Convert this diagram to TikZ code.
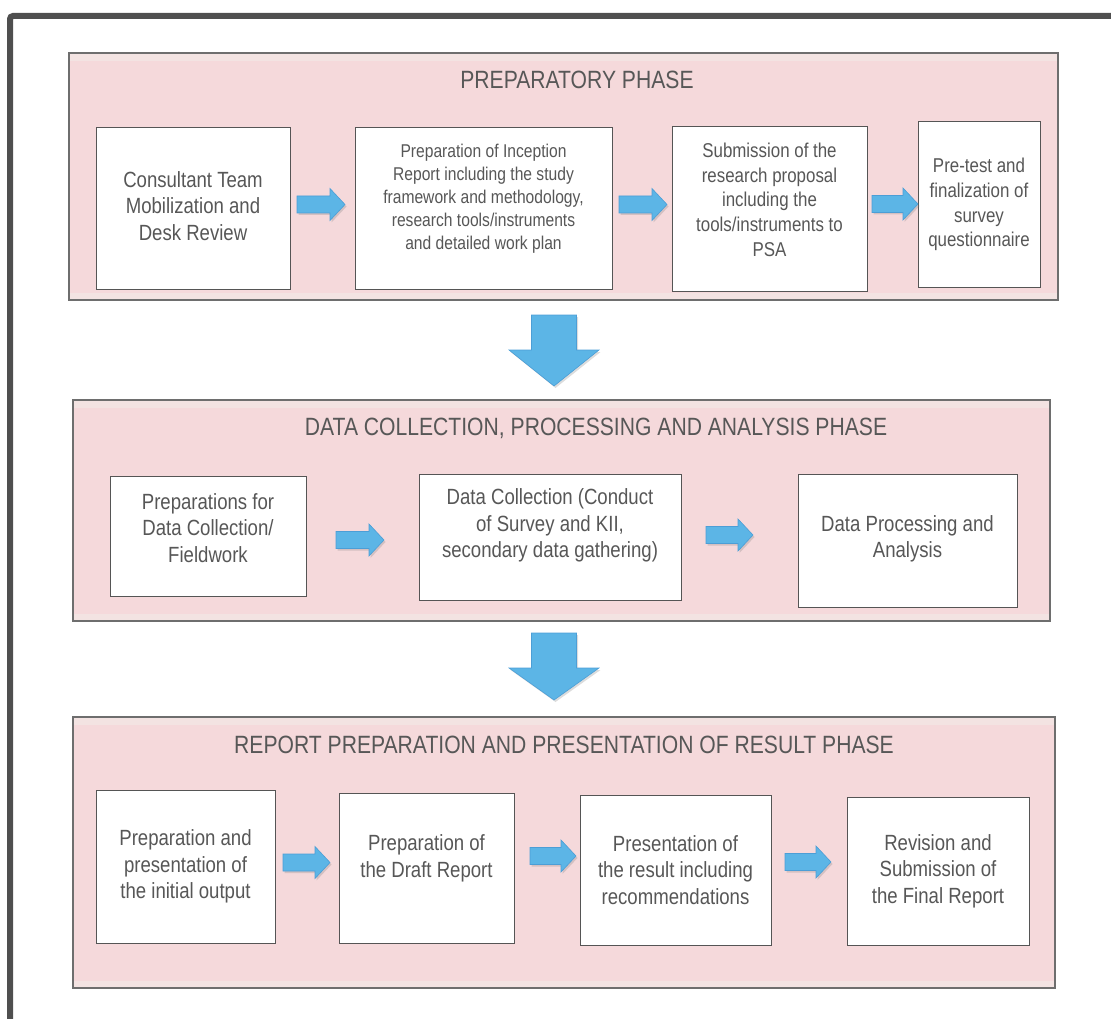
\documentclass[tikz,border=0pt]{standalone}
\usepackage{fontspec}
\setmainfont{Liberation Sans}[FakeStretch=0.845]
\usetikzlibrary{calc,shadows}
\definecolor{framegray}{HTML}{4F4F4F}
\definecolor{panelpink}{HTML}{F5D9DB}
\definecolor{panelband}{HTML}{F3E3E2}
\definecolor{panelline}{HTML}{6E6E6E}
\definecolor{boxline}{HTML}{555555}
\definecolor{textgray}{HTML}{575757}
\definecolor{arrowblue}{HTML}{5CB5E6}
\definecolor{arrowedge}{HTML}{4C9ED6}

\tikzset{
  panel/.style={draw=panelline, fill=panelpink, line width=1.3pt, inner sep=0pt, outer sep=0pt},
  phasetitle/.style={text=textgray, font=\fontsize{25}{30}\selectfont, inner sep=0pt},
  stepbox/.style={draw=boxline, fill=white, line width=1pt, align=center, inner sep=0pt,
                  outer sep=0pt, text=textgray, font=\fontsize{22}{26.5}\selectfont},
  smalltext/.style={font=\fontsize{18.5}{23}\selectfont},
  midtext/.style={font=\fontsize{20}{24.7}\selectfont},
  blockarrow/.style={fill=arrowblue, draw=arrowedge, line width=0.6pt, line join=miter,
                     drop shadow={shadow xshift=1.5pt, shadow yshift=-2pt, opacity=0.28}},
}

% horizontal block arrow from the x of #1 to the x of #2, at the height of #1
\newcommand\flowarrow[2]{%
  \path let \p1=#1, \p2=#2 in
    [blockarrow] (\x1,\y1+8.5) -- (\x2-15,\y1+8.5) -- (\x2-15,\y1+16) -- (\x2,\y1)
      -- (\x2-15,\y1-16) -- (\x2-15,\y1-8.5) -- (\x1,\y1-8.5) -- cycle;}

% vertical block arrow from the y of #1 down to the y of #2, at the x of #1
\newcommand\phasearrow[2]{%
  \path let \p1=#1, \p2=#2 in
    [blockarrow] (\x1-22.5,\y1) -- (\x1+22.5,\y1) -- (\x1+22.5,\y1-35) -- (\x1+45,\y1-35)
      -- (\x1,\y2) -- (\x1-45,\y1-35) -- (\x1-22.5,\y1-35) -- cycle;}

\begin{document}
\begin{tikzpicture}[x=1pt, y=-1pt]
  \useasboundingbox (0,0) rectangle (1111,1019);

  % open outer frame
  \draw[framegray, line width=6pt, rounded corners=3pt] (1111,16) -- (10,16) -- (10,1019);

  % phase panels
  \node[panel, minimum width=989pt, minimum height=247pt] (p1) at (563.5,176.5) {};
  \node[panel, minimum width=977pt, minimum height=221pt] (p2) at (561.5,510.5) {};
  \node[panel, minimum width=982pt, minimum height=271pt] (p3) at (564,852.5) {};
  \foreach \p in {p1,p2,p3}{
    \fill[panelband] ($(\p.north west)+(0.65,0.65)$) rectangle ($(\p.north east)+(-0.65,8)$);
    \fill[panelband] ($(\p.south west)+(0.65,-7)$) rectangle ($(\p.south east)+(-0.65,-0.65)$);
  }

  \node[phasetitle] (t1) at (577,80) {PREPARATORY PHASE};
  \node[phasetitle] (t2) at (596,428) {DATA COLLECTION, PROCESSING AND ANALYSIS PHASE};
  \node[phasetitle] (t3) at (564,745) {REPORT PREPARATION AND PRESENTATION OF RESULT PHASE};

  % preparatory phase steps
  \node[stepbox, minimum width=194pt, minimum height=161pt] (b1) at (193,208.5)
    {Consultant Team\\Mobilization and\\Desk Review\\[-21pt]};
  \node[stepbox, smalltext, minimum width=257pt, minimum height=161pt] (b2) at (483.5,208.5)
    {Preparation of Inception\\Report including the study\\framework and methodology,\\research tools/instruments\\and detailed work plan\\[1pt]};
  \node[stepbox, midtext, minimum width=195pt, minimum height=164pt] (b3) at (769.5,209)
    {Submission of the\\research proposal\\including the\\tools/instruments to\\PSA\\[-5.7pt]};
  \node[stepbox, midtext, minimum width=122pt, minimum height=165pt] (b4) at (979,204.5)
    {Pre-test and\\finalization of\\survey\\questionnaire};

  % data collection steps
  \node[stepbox, minimum width=196pt, minimum height=120pt] (c1) at (208,536)
    {Preparations for\\Data Collection/\\Fieldwork\\[-10.5pt]};
  \node[stepbox, minimum width=262pt, minimum height=126pt] (c2) at (550,537)
    {Data Collection (Conduct\\of Survey and KII,\\secondary data gathering)\\[0.5pt]};
  \node[stepbox, minimum width=219pt, minimum height=133pt] (c3) at (907.5,540.5)
    {Data Processing and\\Analysis\\[-18.5pt]};

  % report steps
  \node[stepbox, minimum width=179pt, minimum height=153pt] (d1) at (185.5,866.5)
    {Preparation and\\presentation of\\the initial output};
  \node[stepbox, minimum width=175pt, minimum height=150pt] (d2) at (426.5,868)
    {Preparation of\\the Draft Report\\[-2.5pt]};
  \node[stepbox, minimum width=191pt, minimum height=150pt] (d3) at (675.5,870)
    {Presentation of\\the result including\\recommendations};
  \node[stepbox, minimum width=182pt, minimum height=148pt] (d4) at (938,871)
    {Revision and\\Submission of\\the Final Report};

  % arrows between steps
  \flowarrow{($(b1.east)+(7,-4)$)}{($(b2.west)+(-10,0)$)}
  \flowarrow{($(b2.east)+(7,-4)$)}{($(b3.west)+(-5,0)$)}
  \flowarrow{($(b3.east)+(5,-5)$)}{($(b4.west)+(0,0)$)}
  \flowarrow{($(c1.east)+(30,4)$)}{($(c2.west)+(-35,0)$)}
  \flowarrow{($(c2.east)+(25,-2)$)}{($(c3.west)+(-45,0)$)}
  \flowarrow{($(d1.east)+(8,-4)$)}{($(d2.west)+(-9,0)$)}
  \flowarrow{($(d2.east)+(16,-12)$)}{($(d3.west)+(-4,0)$)}
  \flowarrow{($(d3.east)+(14,-8)$)}{($(d4.west)+(-16,0)$)}

  % arrows between phases
  \phasearrow{($(p1.south)+(-9.5,15)$)}{($(p2.north)+(0,-14)$)}
  \phasearrow{($(p2.south)+(-7.5,12)$)}{($(p3.north)+(0,-17)$)}
\end{tikzpicture}
\end{document}
